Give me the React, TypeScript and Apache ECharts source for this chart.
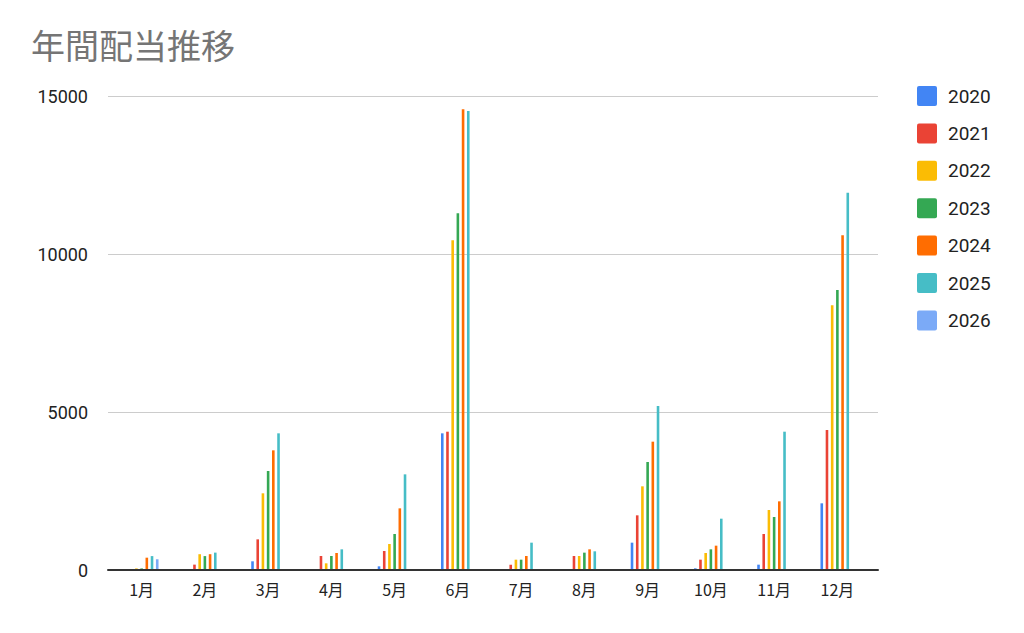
import React, { useEffect, useRef } from "react";
import * as echarts from "echarts";

const months = ["1月", "2月", "3月", "4月", "5月", "6月", "7月", "8月", "9月", "10月", "11月", "12月"];
const years = ["2020", "2021", "2022", "2023", "2024", "2025", "2026"];
const colors = ["#4285F4", "#EA4335", "#FBBC04", "#34A853", "#FF6D01", "#46BDC6", "#7BAAF7"];
const yTicks = { min: 0, max: 15000, interval: 5000 };

const y2020 = [0, 0, 275, 0, 116, 4325, 0, 0, 865, 53, 169, 2110];
const y2021 = [0, 170, 970, 443, 601, 4377, 169, 443, 1730, 327, 1139, 4430];
const y2022 = [50, 500, 2427, 211, 823, 10434, 327, 443, 2648, 538, 1899, 8376];
const y2023 = [50, 440, 3133, 443, 1139, 11287, 327, 549, 3418, 654, 1677, 8861];
const y2024 = [390, 500, 3787, 538, 1951, 14578, 443, 654, 4061, 770, 2173, 10591];
const y2025 = [440, 550, 4325, 654, 3027, 14525, 865, 591, 5190, 1624, 4377, 11940];
const y2026 = [340, 0, 0, 0, 0, 0, 0, 0, 0, 0, 0, 0];

const seriesValues = [y2020, y2021, y2022, y2023, y2024, y2025, y2026];

export default function App() {
  const ref = useRef<HTMLDivElement>(null);

  useEffect(() => {
    if (!ref.current) return;
    const chart = echarts.init(ref.current, undefined, { renderer: "svg" });
    chart.setOption({
      animation: false,
      backgroundColor: "#ffffff",
      title: {
        text: "年間配当推移",
        left: 26,
        top: 22,
        textStyle: {
          fontFamily: "Noto Sans CJK JP",
          fontSize: 34,
          fontWeight: "normal",
          color: "#757575",
        },
      },
      legend: {
        orient: "vertical",
        left: 912,
        top: 81,
        itemWidth: 20,
        itemHeight: 20,
        itemGap: 17.4,
        icon: "path://M2,0 L18,0 Q20,0 20,2 L20,18 Q20,20 18,20 L2,20 Q0,20 0,18 L0,2 Q0,0 2,0 Z",
        data: years,
        textStyle: {
          fontFamily: "Roboto",
          fontSize: 19,
          color: "#222222",
          padding: [0, 0, 0, 6],
        },
      },
      grid: [
        // frame: gridlines, y labels and baseline
        { left: 108, right: 146, top: 96, bottom: 63 },
        // bar area
        { left: 110, right: 155, top: 96, bottom: 63 },
      ],
      xAxis: [
        {
          type: "category",
          gridIndex: 0,
          data: months,
          axisLine: { lineStyle: { color: "#333333", width: 2 } },
          axisTick: { show: false },
          axisLabel: { show: false },
          z: 5,
        },
        {
          type: "category",
          gridIndex: 1,
          data: months,
          axisLine: { show: false },
          axisTick: { show: false },
          axisLabel: {
            fontFamily: "Noto Sans CJK JP",
            fontSize: 16,
            color: "#222222",
            margin: 11,
          },
        },
      ],
      yAxis: [
        {
          type: "value",
          gridIndex: 0,
          ...yTicks,
          axisLine: { show: false },
          axisTick: { show: false },
          splitLine: { lineStyle: { color: "#cccccc", width: 1 } },
          axisLabel: {
            fontFamily: "Roboto",
            fontSize: 18,
            color: "#222222",
            margin: 20,
            formatter: (v: number) => String(v),
          },
        },
        {
          type: "value",
          gridIndex: 1,
          ...yTicks,
          show: false,
          splitLine: { show: false },
        },
      ],
      series: years.map((y, i) => ({
        name: y,
        type: "bar",
        xAxisIndex: 1,
        yAxisIndex: 1,
        data: seriesValues[i],
        barWidth: 2.6,
        barGap: "100%",
        itemStyle: { color: colors[i] },
      })),
    });
    return () => chart.dispose();
  }, []);

  return <div ref={ref} style={{ width: 1024, height: 633, position: "absolute", left: 0, top: 0 }} />;
}
